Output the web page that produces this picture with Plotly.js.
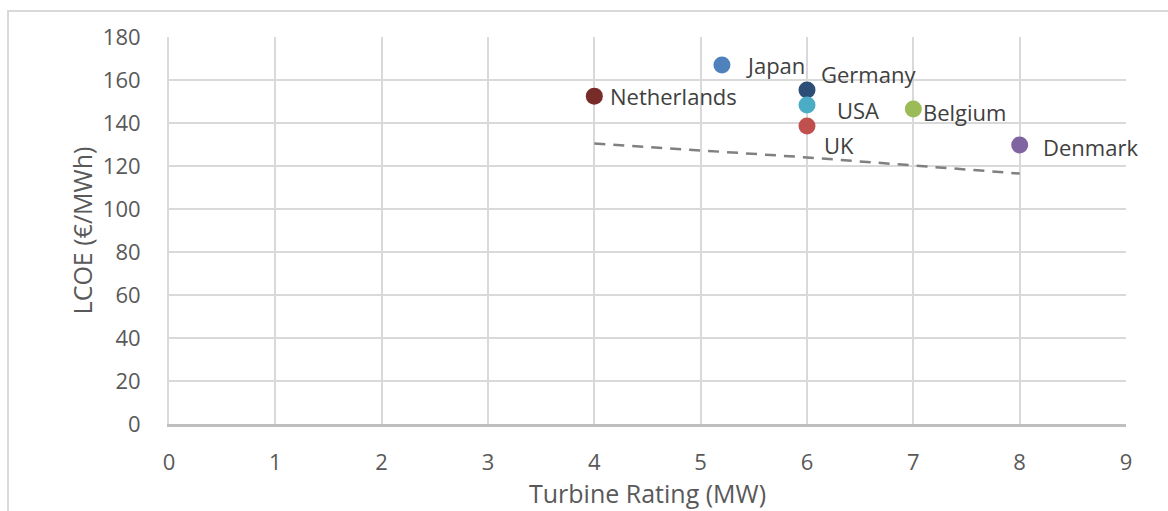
<!DOCTYPE html>
<html>
<head>
<meta charset="utf-8">
<script src="https://cdn.plot.ly/plotly-3.0.1.min.js"></script>
<style>
html,body{margin:0;padding:0;background:#fff;}
#frame{position:absolute;left:7px;top:10px;width:1200px;height:600px;border:2px solid #D9D9D9;box-sizing:border-box;}
#chart{position:absolute;left:0;top:0;width:1168px;height:511px;}
</style>
</head>
<body>
<div id="frame"></div>
<div id="chart"></div>
<script>
const countries = ["Netherlands", "Japan", "Germany", "USA", "UK", "Belgium", "Denmark"];
const ratingMW = [4, 5.2, 6, 6, 6, 7, 8];
const lcoe = [152.5, 167, 155.3, 148.4, 138.6, 146.5, 129.8];
const colors = ["#772C2A", "#4F81BD", "#2C4D75", "#4BACC6", "#C0504D", "#9BBB59", "#8064A2"];
const trendX = [4, 6, 8];
const trendY = [130.5, 124, 116.5];
const xTicks = [0, 1, 2, 3, 4, 5, 6, 7, 8, 9];
const yTicks = [0, 20, 40, 60, 80, 100, 120, 140, 160, 180];

// label offsets in pixels (style)
const labelShift = [[14, 0], [22, 0], [12, 16], [28, -5], [15, -19], [8, -3], [21, -2]];

const font = "Open Sans, DejaVu Sans, sans-serif";

const traces = [
  {
    x: trendX, y: trendY, mode: "lines", type: "scatter",
    line: {color: "#808080", width: 2.5, dash: "11px,8px"},
    hoverinfo: "skip", showlegend: false
  },
  {
    x: ratingMW, y: lcoe, mode: "markers", type: "scatter",
    marker: {color: colors, size: 17},
    text: countries, showlegend: false
  }
];

const annotations = countries.map((c, i) => ({
  x: ratingMW[i], y: lcoe[i], xref: "x", yref: "y",
  text: c, showarrow: false, xanchor: "left", yanchor: "middle",
  xshift: labelShift[i][0], yshift: labelShift[i][1],
  font: {family: font, size: 22, color: "#404040"}
}));

const layout = {
  width: 1168, height: 511,
  margin: {l: 169, r: 42, t: 37, b: 87},
  paper_bgcolor: "rgba(0,0,0,0)", plot_bgcolor: "rgba(0,0,0,0)",
  showlegend: false,
  xaxis: {
    range: [0, 9], tickvals: xTicks, ticktext: xTicks.map(String),
    showgrid: true, gridcolor: "#D9D9D9", gridwidth: 2,
    zeroline: false, showline: true, linecolor: "#BFBFBF", linewidth: 2.5,
    ticks: "", ticklen: 0, ticklabelstandoff: 17,
    tickfont: {family: font, size: 22, color: "#595959"},
    title: {text: "Turbine Rating (MW)", font: {family: font, size: 25, color: "#595959"}, standoff: 1}
  },
  yaxis: {
    range: [0, 180], tickvals: yTicks, ticktext: yTicks.map(String),
    showgrid: true, gridcolor: "#D9D9D9", gridwidth: 2,
    zeroline: false, showline: true, linecolor: "#D9D9D9", linewidth: 2,
    ticks: "", ticklen: 0, ticklabelstandoff: 22,
    tickfont: {family: font, size: 22, color: "#595959"},
    title: {text: "LCOE (€/MWh)", font: {family: font, size: 25, color: "#595959"}, standoff: 3}
  },
  annotations: annotations
};

Plotly.newPlot("chart", traces, layout, {displayModeBar: false, staticPlot: true});
</script>
</body>
</html>
